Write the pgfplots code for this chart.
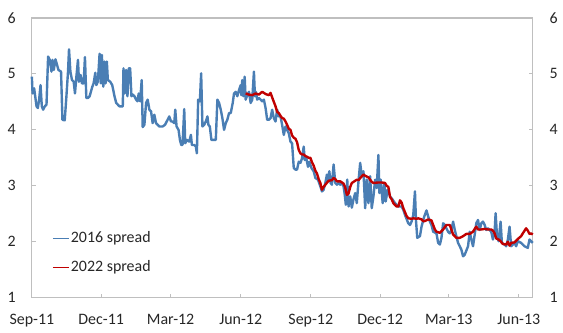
\documentclass[border=0pt]{standalone}
\usepackage{fontspec}
\setmainfont{Carlito}
\usepackage{pgfplots}
\pgfplotsset{compat=1.18}
\definecolor{blueline}{HTML}{4A7EB4}
\definecolor{redline}{HTML}{C00000}
\definecolor{axgray}{HTML}{BFBFBF}
\begin{document}
\fontsize{12}{14}\selectfont
\begin{tikzpicture}
\begin{axis}[name=ax, width=377.25pt, height=210.75pt, scale only axis,
  xmin=0, xmax=503, ymin=1, ymax=6,
  xtick={0,69.6,139.3,209.7,280.1,349.7,418.6,489},
  xticklabels={Sep-11,Dec-11,Mar-12,Jun-12,Sep-12,Dec-12,Mar-13,Jun-13},
  ytick={1,2,3,4,5,6},
  axis line style={axgray, line width=0.9pt},
  every tick/.style={axgray, line width=0.9pt},
  major tick length=3pt,
  tick align=inside,
  xtick pos=left, ytick pos=both, yticklabel pos=left,
  /pgf/number format/assume math mode=true,
  tick label style={font=\fontsize{12}{14}\selectfont, text=black!85},
  yticklabel style={xshift=-8pt},
  xticklabel style={yshift=-8pt},
  legend style={draw=none, fill=none, at={(0.04,0.242)}, anchor=north west,
    font=\fontsize{12}{14}\selectfont, row sep=9.75pt, inner sep=0pt,
    nodes={inner sep=1pt, text=black!85}},
  legend cell align=left,
  legend image code/.code={\draw[#1, line width=1.1pt] (0pt,0pt) -- (12pt,0pt);},
  clip=false,
]
\addplot[blueline, line width=1.8pt, line join=round] coordinates {
(0,4.95)(0.7,4.65)(2.3,4.74)(4.7,4.42)(6,4.39)(7.3,4.54)(8.7,4.80)(10,4.42)
(11.3,4.36)(13,4.42)(14.7,4.45)(16.3,5.31)(18,5.25)(19.7,5.04)(20.7,5.25)(22,5.07)
(23.7,5.26)(25.3,5.16)(26.7,5.07)(29.3,5.04)(30.7,4.18)(33,4.17)(34.7,4.60)(36.3,5.04)
(37.3,5.44)(38.7,5.04)(40.3,4.89)(42,4.86)(43.3,4.65)(44.7,4.95)(46.3,5.25)(47.3,4.86)
(49,4.98)(50.3,4.83)(52,4.83)(53.3,5.30)(54.7,4.57)(56.3,4.57)(58,4.60)(60.7,4.77)
(62,4.83)(63.7,5.02)(64.7,4.80)(66.3,4.86)(68,5.36)(69.3,4.83)(70.3,5.34)(71.7,4.77)
(73,5.22)(74,4.83)(75.3,5.22)(76.3,4.89)(78.7,4.86)(80.7,4.80)(83,4.60)(84.7,4.48)
(88,4.42)(91.3,4.42)(92,5.10)(93.3,4.65)(94.7,5.07)(96,4.60)(97.3,5.10)(98.7,5.10)
(100,4.60)(101.3,4.63)(103,4.60)(104.7,4.54)(106,4.51)(107.3,4.65)(108.7,4.51)(110.3,4.89)
(111.3,4.05)(113,4.09)(114.7,4.48)(116.3,4.54)(118,4.36)(119.7,4.33)(121.3,4.12)(123,4.27)
(124.7,4.12)(126.3,4.09)(128,4.06)(131.3,4.06)(133.7,4.09)(136.3,4.18)(138,4.24)(139.7,4.15)
(141.3,4.15)(143,4.12)(144,4.36)(145.3,4.06)(147.3,4.00)(148.7,3.82)(150,3.73)(151.3,3.73)
(153,4.37)(154,3.76)(155.7,3.82)(158,3.79)(159.7,3.91)(160.7,3.73)(163,3.73)(164.7,3.70)
(165.7,3.58)(167,4.54)(168.7,4.51)(170,5.01)(171.3,4.06)(173,4.09)(174.7,4.15)
(176.3,4.24)(177.3,4.09)(178.7,4.06)(180.3,3.82)(183,3.82)(184.7,3.82)(186.3,4.54)(188,4.48)
(189.7,4.36)(191.3,4.21)(193,4.00)(194.7,4.12)(196.3,4.18)(198,4.30)(199.7,4.30)(201.7,4.48)
(203,4.65)(204.7,4.68)(206.3,4.60)(208,4.71)(209.7,4.80)(210.3,4.62)(211.3,4.89)(212.3,4.60)
(213.7,4.95)(214.7,4.54)(216.3,4.62)(218,4.68)(219.7,4.48)(221.3,4.54)(223,5.04)(224,4.60)
(225,4.68)(226.3,4.54)(228,4.57)(229.7,4.54)(231.3,4.51)(233,4.54)(234.7,4.39)(236.3,4.18)
(238,4.18)(239.7,4.21)(241.3,4.36)(243,4.21)(244.7,4.15)(246.3,4.36)(248,4.24)(249.7,4.24)
(251.3,4.09)(253,3.91)(254.7,4.06)(256.3,4.00)(258,3.94)(259.7,3.79)(261.3,3.76)(263,3.32)
(264.7,3.29)(266.3,3.29)(268,3.43)(269.7,3.41)(271.3,3.49)(273,3.70)(274,3.46)(275.3,3.52)
(277.3,3.34)(278.7,3.43)(280.7,3.32)(283,3.26)(284.7,3.14)(287.3,3.11)(289.7,2.99)(291.3,2.90)
(293,2.93)(294.7,3.05)(296.3,3.20)(297.3,3.08)(298.7,3.26)(300,3.05)(301.3,3.02)(303,3.38)
(304.7,3.05)(306.3,3.02)(308,3.05)(309.7,3.02)(311.3,3.05)(313,2.99)(314,2.87)(315.3,2.66)
(316.7,3.11)(318,2.63)(319.7,2.81)(321.3,2.61)(323,2.76)(324.7,2.87)(326.3,2.69)(328,3.08)
(329.7,3.41)(331.3,3.17)(333,3.26)(334.7,2.60)(336.3,3.11)(338,2.69)(339.7,3.17)(341.3,2.60)
(343,2.81)(344.7,3.11)(346.3,2.96)(348,3.55)(349,2.87)(350.3,3.11)(352.3,2.69)(354,3.05)
(355.3,2.72)(357.3,2.93)(359.7,2.81)(362,2.76)(364.7,2.69)(368,2.63)(371.3,2.63)(373,2.57)
(374.7,2.48)(378,2.33)(379.7,2.30)(381.3,2.36)(383,2.48)(384.7,2.90)(385.7,2.39)(387,2.07)
(389.7,2.10)(391.3,2.27)(394,2.45)(396.3,2.56)(398,2.45)(399.7,2.36)(401.3,2.30)(403,2.18)
(406.3,2.15)(408,1.98)(409.7,1.95)(411.3,2.07)(413,2.33)(414.7,2.30)(416.3,2.24)(418,2.18)
(419.7,2.15)(421.3,2.21)(423,2.36)(424.7,2.21)(428,1.98)(431.3,1.86)(433,1.74)(434.7,1.77)
(438,1.92)(439.7,2.18)(441.3,2.04)(443,1.92)(444.7,2.13)(446.3,2.33)(448,2.39)(449.7,2.21)
(451.3,2.33)(453,2.36)(454.7,2.30)(456.3,2.21)(458,2.24)(459.7,2.21)(461.3,2.18)(463,2.04)
(464.7,2.18)(465.7,2.51)(467,2.13)(468.7,2.01)(470.7,2.36)(472,1.98)(474.7,1.95)(476.3,1.92)
(478,2.04)(479.7,2.27)(481.3,1.92)(483,1.95)(484.7,1.98)(486.3,1.92)(488,2.01)(491.3,1.98)
(494.7,1.92)(498,1.89)(499.7,2.04)(501.3,2.01)(503,1.98)
};
\addlegendentry{2016 spread}
\addplot[redline, line width=1.8pt, line join=round] coordinates {
(214.7,4.65)(218,4.63)(221.3,4.62)(224.7,4.65)(228,4.63)(231.3,4.68)(234.7,4.64)(238,4.62)
(239.7,4.66)(241.3,4.58)(243,4.50)(244.7,4.42)(246.3,4.32)(248,4.30)(249.7,4.25)(251.3,4.21)
(253,4.20)(254.7,4.15)(256.3,4.09)(258,4.02)(259.7,4.00)(261.3,3.90)(263,3.86)(264.7,3.84)
(266.3,3.78)(268,3.64)(269.7,3.58)(271.3,3.56)(273,3.56)(274.7,3.53)(276.3,3.52)(278,3.50)
(279.7,3.50)(281.3,3.42)(283,3.36)(284.7,3.27)(286.3,3.22)(288,3.12)(289.7,3.05)(291.3,2.93)
(293,2.98)(294.7,3.02)(298,3.09)(301.3,3.10)(303,3.14)(304.7,3.12)(306.3,3.08)(309.7,3.08)
(313,3.04)(314.7,2.97)(316.3,2.84)(318,2.86)(319.7,2.98)(321.3,3.05)(323,3.07)(326.3,3.11)
(328,3.10)(331.3,3.17)(333,3.20)(334.7,3.18)(338,3.15)(341.3,3.07)(343,3.05)(348,3.06)
(351.3,3.06)(354.7,3.05)(356.3,3.00)(358,2.98)(359.7,2.80)(361.3,2.76)(363,2.69)(366.3,2.63)
(368,2.63)(369.7,2.74)(371.3,2.70)(373,2.60)(376.3,2.46)(378,2.42)(381.3,2.41)(383,2.42)
(386.3,2.41)(388,2.42)(391.3,2.40)(393,2.37)(394.7,2.37)(398,2.40)(401.3,2.38)(404.7,2.22)
(406.3,2.18)(409.7,2.16)(413,2.22)(416.3,2.30)(419.7,2.30)(423,2.13)(426.3,2.07)(429.7,2.07)
(433,2.10)(436.3,2.14)(439.7,2.14)(443,2.18)(444.7,2.23)(446.3,2.27)(448,2.22)(451.3,2.22)
(454.7,2.23)(458,2.22)(461.3,2.22)(463,2.20)(464.7,2.15)(466.3,2.06)(469.7,2.03)(473,1.96)
(476.3,1.95)(478,2.00)(479.7,1.93)(481.3,1.98)(484.7,1.99)(488,2.05)(491.3,2.10)(493,2.15)
(496.3,2.24)(498,2.20)(499.7,2.14)(501.3,2.15)(503,2.13)
};
\addlegendentry{2022 spread}
\end{axis}
\begin{axis}[width=377.25pt, height=210.75pt, scale only axis,
  xmin=0, xmax=503, ymin=1, ymax=6,
  hide x axis, axis y line*=right,
  ytick={1,2,3,4,5,6},
  axis line style={draw=none},
  major tick length=0pt,
  /pgf/number format/assume math mode=true,
  tick label style={font=\fontsize{12}{14}\selectfont, text=black!85},
  yticklabel style={xshift=8.5pt},
]
\addplot[draw=none] coordinates {(0,1)};
\end{axis}
\useasboundingbox ([xshift=-24pt,yshift=-24.75pt]ax.south west) rectangle ([xshift=21pt,yshift=13.5pt]ax.north east);
\end{tikzpicture}
\end{document}
